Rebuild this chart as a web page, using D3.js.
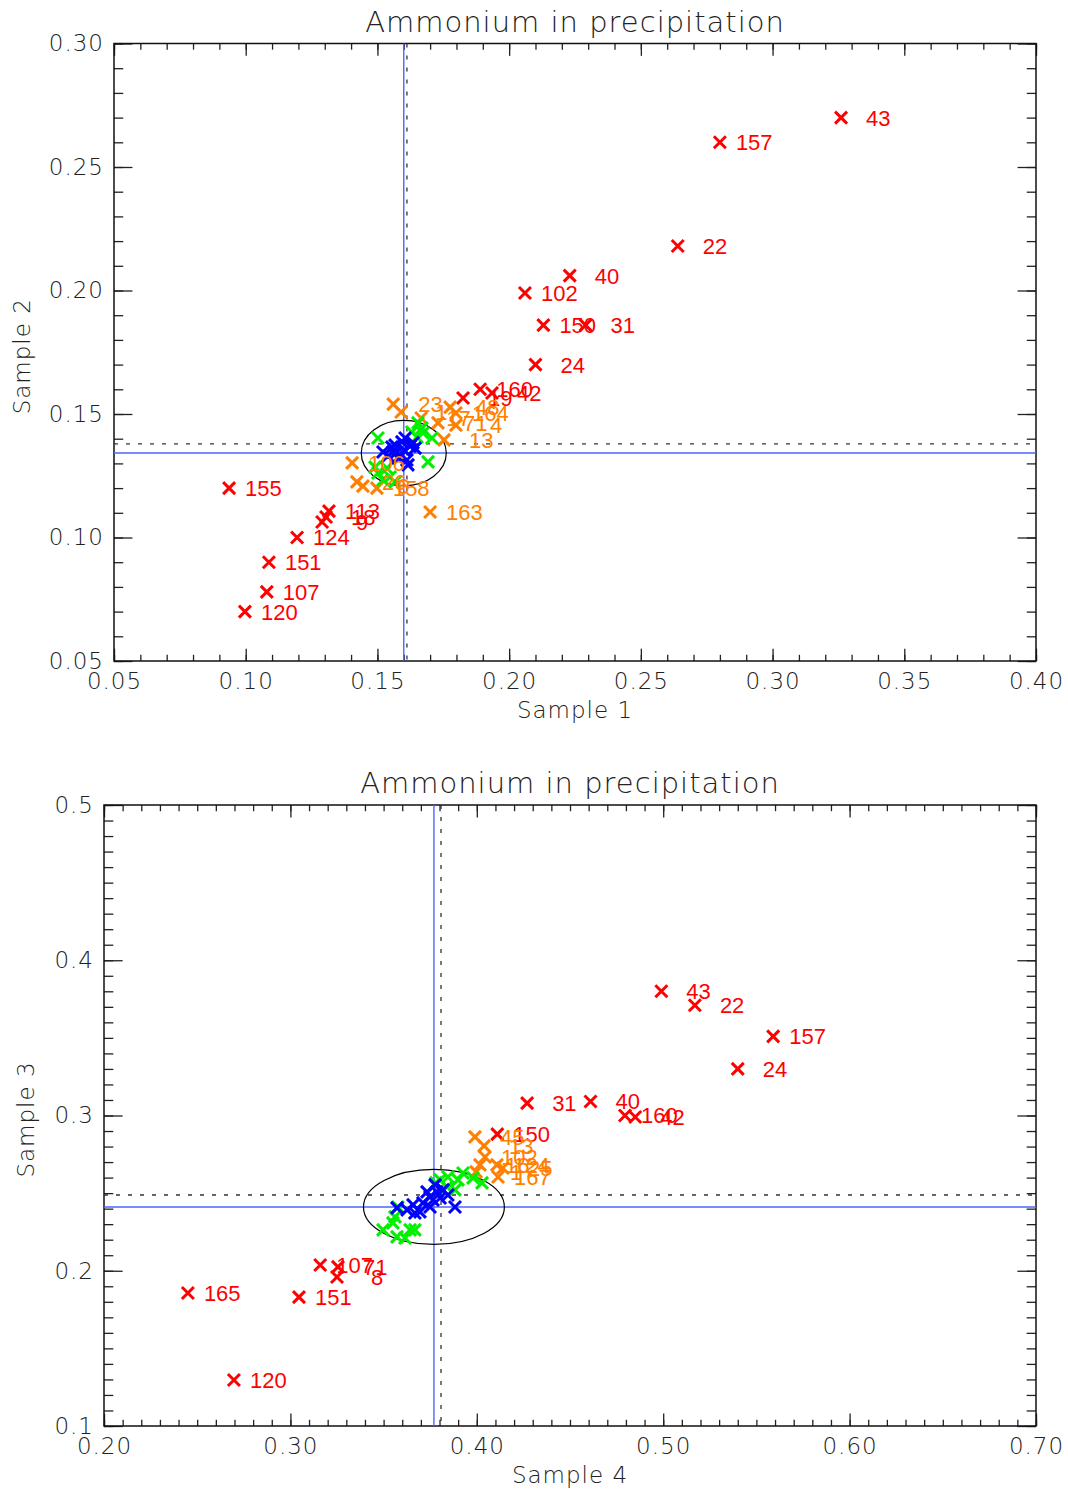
<!DOCTYPE html>
<html lang="en">
<head>
<meta charset="UTF-8">
<title>Ammonium in precipitation</title>
<script src="https://cdn.jsdelivr.net/npm/d3@7"></script>
<style>
  body { margin: 0; background: #fff; }
  .tick text { font-family: "DejaVu Sans", sans-serif; font-weight: 200; letter-spacing: 1px; }
</style>
</head>
<body>
<div id="chart"></div>
<script>
const titleText = "Ammonium in precipitation";

// ---- panel 1: Sample 1 (x) vs Sample 2 (y)
const p1Red = [
  {x: 0.326, y: 0.270, id: 43}, {x: 0.280, y: 0.260, id: 157}, {x: 0.264, y: 0.218, id: 22},
  {x: 0.223, y: 0.206, id: 40}, {x: 0.206, y: 0.199, id: 102}, {x: 0.213, y: 0.186, id: 150},
  {x: 0.229, y: 0.186, id: 31}, {x: 0.210, y: 0.170, id: 24}, {x: 0.189, y: 0.160, id: 160},
  {x: 0.1935, y: 0.1585, id: 42}, {x: 0.1825, y: 0.1565, id: 19}, {x: 0.0937, y: 0.120, id: 155},
  {x: 0.1316, y: 0.1107, id: 113}, {x: 0.1305, y: 0.1083, id: 18}, {x: 0.129, y: 0.1063, id: 9},
  {x: 0.1195, y: 0.100, id: 124}, {x: 0.1088, y: 0.090, id: 151}, {x: 0.108, y: 0.078, id: 107},
  {x: 0.0997, y: 0.070, id: 120}
];
const p1Orange = [
  {x: 0.156, y: 0.154, id: 23}, {x: 0.159, y: 0.1508, id: 1}, {x: 0.1666, y: 0.1484, id: 17},
  {x: 0.173, y: 0.1464, id: 71}, {x: 0.1776, y: 0.1528, id: 48}, {x: 0.1798, y: 0.1504, id: 164},
  {x: 0.1798, y: 0.1455, id: 4}, {x: 0.1753, y: 0.1395, id: 13}, {x: 0.170, y: 0.1103, id: 163},
  {x: 0.1404, y: 0.1302, id: 106}, {x: 0.1422, y: 0.1225, id: 26}, {x: 0.1445, y: 0.1208, id: 6},
  {x: 0.1498, y: 0.120, id: 158}
];
const p1Green = [
  {x: 0.1502, y: 0.1403}, {x: 0.1692, y: 0.1306}, {x: 0.1654, y: 0.1464}, {x: 0.1631, y: 0.1427},
  {x: 0.1673, y: 0.1423}, {x: 0.1707, y: 0.1403}, {x: 0.1491, y: 0.1285}, {x: 0.1502, y: 0.1261},
  {x: 0.1521, y: 0.1233}, {x: 0.1548, y: 0.1245}, {x: 0.1536, y: 0.1281}, {x: 0.1567, y: 0.1225},
  {x: 0.165, y: 0.1407}, {x: 0.1669, y: 0.1443}
];
const p1Blue = [
  {x: 0.1521, y: 0.1346}, {x: 0.154, y: 0.133}, {x: 0.1555, y: 0.1366}, {x: 0.1574, y: 0.1346},
  {x: 0.1586, y: 0.1326}, {x: 0.1593, y: 0.1387}, {x: 0.1601, y: 0.1354}, {x: 0.1612, y: 0.1314},
  {x: 0.1616, y: 0.1294}, {x: 0.1624, y: 0.137}, {x: 0.1635, y: 0.1383}, {x: 0.1643, y: 0.1362},
  {x: 0.1567, y: 0.1374}, {x: 0.1578, y: 0.1322}, {x: 0.1605, y: 0.1403}, {x: 0.1559, y: 0.1346}
];
const p1Median = [0.160, 0.1342];   // blue lines / ellipse centre
const p1Mean = [0.1612, 0.1379];     // dashed lines
const p1Radius = [0.01614, 0.01324];

// ---- panel 2: Sample 4 (x) vs Sample 3 (y)
const p2Red = [
  {x: 0.499, y: 0.380, id: 43}, {x: 0.517, y: 0.371, id: 22}, {x: 0.559, y: 0.351, id: 157},
  {x: 0.540, y: 0.330, id: 24}, {x: 0.427, y: 0.308, id: 31}, {x: 0.461, y: 0.309, id: 40},
  {x: 0.4795, y: 0.300, id: 160}, {x: 0.485, y: 0.299, id: 42}, {x: 0.411, y: 0.288, id: 150},
  {x: 0.316, y: 0.2037, id: 107}, {x: 0.3255, y: 0.2025, id: 71}, {x: 0.325, y: 0.196, id: 8},
  {x: 0.245, y: 0.1857, id: 165}, {x: 0.3046, y: 0.183, id: 151}, {x: 0.2697, y: 0.1296, id: 120}
];
const p2Orange = [
  {x: 0.399, y: 0.2862, id: 45}, {x: 0.4039, y: 0.2804, id: 13}, {x: 0.4044, y: 0.2733, id: 102},
  {x: 0.4017, y: 0.2682, id: 16}, {x: 0.4108, y: 0.2682, id: 124}, {x: 0.414, y: 0.2662, id: 25},
  {x: 0.3996, y: 0.2637, id: 1}, {x: 0.4114, y: 0.2604, id: 167}
];
const p2Green = [
  {x: 0.3497, y: 0.2263}, {x: 0.355, y: 0.2308}, {x: 0.3572, y: 0.2218}, {x: 0.3615, y: 0.2211},
  {x: 0.3668, y: 0.2263}, {x: 0.3561, y: 0.2347}, {x: 0.3642, y: 0.2263}, {x: 0.3577, y: 0.2411},
  {x: 0.3803, y: 0.2585}, {x: 0.3845, y: 0.2604}, {x: 0.3899, y: 0.2585}, {x: 0.3926, y: 0.263},
  {x: 0.398, y: 0.2598}, {x: 0.4028, y: 0.2566}, {x: 0.3883, y: 0.2521}, {x: 0.384, y: 0.254},
  {x: 0.3781, y: 0.2566}
];
const p2Blue = [
  {x: 0.3572, y: 0.2405}, {x: 0.3626, y: 0.2392}, {x: 0.3668, y: 0.2372}, {x: 0.3711, y: 0.2437},
  {x: 0.3749, y: 0.2476}, {x: 0.3786, y: 0.2508}, {x: 0.3819, y: 0.2521}, {x: 0.3845, y: 0.2488},
  {x: 0.3883, y: 0.2411}, {x: 0.3695, y: 0.2379}, {x: 0.3749, y: 0.2411}, {x: 0.3765, y: 0.2456},
  {x: 0.3658, y: 0.2424}, {x: 0.3803, y: 0.2469}, {x: 0.3733, y: 0.2508}, {x: 0.3776, y: 0.2553}
];
const p2Median = [0.377, 0.2411];
const p2Mean = [0.3808, 0.2488];
const p2Radius = [0.0378, 0.02416];

const width = 1068, height = 1490;
const svg = d3.select("#chart").append("svg")
  .attr("width", width)
  .attr("height", height);

function steps(lo, hi, step) {
  const n = Math.round((hi - lo) / step);
  return d3.range(n + 1).map(i => +(lo + i * step).toFixed(4));
}

function drawPanel(cfg) {
  const {left, right, top, bottom} = cfg;
  const x = d3.scaleLinear().domain(cfg.xDomain).range([left, right]);
  const y = d3.scaleLinear().domain(cfg.yDomain).range([bottom, top]);
  const g = svg.append("g");
  const xLen = 0.02 * (bottom - top), yLen = 0.02 * (right - left);

  const xMajor = steps(cfg.xDomain[0], cfg.xDomain[1], cfg.xStep);
  const xMinor = steps(cfg.xDomain[0], cfg.xDomain[1], cfg.xMinor);
  const yMajor = steps(cfg.yDomain[0], cfg.yDomain[1], cfg.yStep);
  const yMinor = steps(cfg.yDomain[0], cfg.yDomain[1], cfg.yMinor);

  const axisStyle = sel => sel
    .call(s => s.select(".domain").remove())
    .call(s => s.selectAll(".tick line").attr("stroke", "#222").attr("stroke-width", 1.3))
    .call(s => s.selectAll(".tick text").attr("font-size", 23).attr("fill", "#222"));

  // bottom / top
  g.append("g").attr("transform", `translate(0,${bottom})`)
    .call(d3.axisBottom(x).tickValues(xMinor).tickSize(-xLen / 2).tickFormat(""))
    .call(axisStyle);
  g.append("g").attr("transform", `translate(0,${bottom})`)
    .call(d3.axisBottom(x).tickValues(xMajor).tickSize(-xLen).tickPadding(12).tickFormat(d3.format(cfg.xFmt)))
    .call(axisStyle);
  g.append("g").attr("transform", `translate(0,${top})`)
    .call(d3.axisTop(x).tickValues(xMinor).tickSize(-xLen / 2).tickFormat(""))
    .call(axisStyle);
  g.append("g").attr("transform", `translate(0,${top})`)
    .call(d3.axisTop(x).tickValues(xMajor).tickSize(-xLen).tickFormat(""))
    .call(axisStyle);
  // left / right
  g.append("g").attr("transform", `translate(${left},0)`)
    .call(d3.axisLeft(y).tickValues(yMinor).tickSize(-yLen / 2).tickFormat(""))
    .call(axisStyle);
  g.append("g").attr("transform", `translate(${left},0)`)
    .call(d3.axisLeft(y).tickValues(yMajor).tickSize(-yLen).tickPadding(10).tickFormat(d3.format(cfg.yFmt)))
    .call(axisStyle);
  g.append("g").attr("transform", `translate(${right},0)`)
    .call(d3.axisRight(y).tickValues(yMinor).tickSize(-yLen / 2).tickFormat(""))
    .call(axisStyle);
  g.append("g").attr("transform", `translate(${right},0)`)
    .call(d3.axisRight(y).tickValues(yMajor).tickSize(-yLen).tickFormat(""))
    .call(axisStyle);

  g.append("rect")
    .attr("x", left).attr("y", top)
    .attr("width", right - left).attr("height", bottom - top)
    .attr("fill", "none").attr("stroke", "#111").attr("stroke-width", 1.5);

  // titles
  const txt = (t, tx, ty, size) => g.append("text")
    .attr("x", tx).attr("y", ty)
    .attr("text-anchor", "middle")
    .attr("font-family", "DejaVu Sans, sans-serif")
    .attr("font-weight", 200)
    .attr("letter-spacing", 1)
    .attr("font-size", size)
    .attr("fill", "#222")
    .text(t);
  txt(titleText, (left + right) / 2, top - 12, 29);
  txt(cfg.xLabel, (left + right) / 2, bottom + 57, 23);
  txt(cfg.yLabel, 0, 0, 23)
    .attr("transform", `translate(${cfg.yLabelX},${(top + bottom) / 2 + 4}) rotate(-90)`);

  // reference lines
  const [mx, my] = cfg.median, [ax, ay] = cfg.mean;
  g.append("line").attr("x1", x(mx)).attr("x2", x(mx)).attr("y1", top).attr("y2", bottom)
    .attr("stroke", "#4d66ff").attr("stroke-width", 1.4);
  g.append("line").attr("x1", left).attr("x2", right).attr("y1", y(my)).attr("y2", y(my))
    .attr("stroke", "#4d66ff").attr("stroke-width", 1.4);
  g.append("line").attr("x1", x(ax)).attr("x2", x(ax)).attr("y1", top).attr("y2", bottom)
    .attr("stroke", "#333").attr("stroke-width", 1.3).attr("stroke-dasharray", "4,8");
  g.append("line").attr("x1", left).attr("x2", right).attr("y1", y(ay)).attr("y2", y(ay))
    .attr("stroke", "#333").attr("stroke-width", 1.3).attr("stroke-dasharray", "4,8");

  g.append("ellipse")
    .attr("cx", x(mx)).attr("cy", y(my))
    .attr("rx", x(mx + cfg.radius[0]) - x(mx))
    .attr("ry", y(my) - y(my + cfg.radius[1]))
    .attr("fill", "none").attr("stroke", "#000").attr("stroke-width", 1.2);

  const cross = "M-6,-6L6,6M6,-6L-6,6";
  const groups = [
    {data: cfg.red, color: "#ff0000", label: true},
    {data: cfg.orange, color: "#ff7f00", label: true},
    {data: cfg.green, color: "#00f000", label: false},
    {data: cfg.blue, color: "#0000ff", label: false}
  ];
  groups.forEach(grp => {
    g.append("g")
      .selectAll("path")
      .data(grp.data)
      .join("path")
      .attr("transform", d => `translate(${x(d.x)},${y(d.y)})`)
      .attr("d", cross)
      .attr("fill", "none")
      .attr("stroke", grp.color)
      .attr("stroke-width", 3);
  });
  groups.filter(grp => grp.label).forEach(grp => {
    // labels written like a 4-wide integer field after the marker
    g.append("g")
      .selectAll("text")
      .data(grp.data)
      .join("text")
      .attr("x", d => x(d.x) + 7 + (4 - String(d.id).length) * 9)
      .attr("y", d => y(d.y))
      .attr("dy", "0.36em")
      .attr("font-family", "Liberation Sans, Arial, sans-serif")
      .attr("font-size", 22)
      .attr("fill", grp.color)
      .text(d => d.id);
  });
}

drawPanel({
  left: 114, right: 1036, top: 43.5, bottom: 661,
  xDomain: [0.05, 0.40], yDomain: [0.05, 0.30],
  xStep: 0.05, xMinor: 0.01, yStep: 0.05, yMinor: 0.01,
  xFmt: ".2f", yFmt: ".2f",
  xLabel: "Sample 1", yLabel: "Sample 2", yLabelX: 30,
  red: p1Red, orange: p1Orange, green: p1Green, blue: p1Blue,
  median: p1Median, mean: p1Mean, radius: p1Radius
});

drawPanel({
  left: 104, right: 1036, top: 805, bottom: 1426,
  xDomain: [0.20, 0.70], yDomain: [0.1, 0.5],
  xStep: 0.1, xMinor: 0.01, yStep: 0.1, yMinor: 0.01,
  xFmt: ".2f", yFmt: ".1f",
  xLabel: "Sample 4", yLabel: "Sample 3", yLabelX: 34,
  red: p2Red, orange: p2Orange, green: p2Green, blue: p2Blue,
  median: p2Median, mean: p2Mean, radius: p2Radius
});
</script>
</body>
</html>
